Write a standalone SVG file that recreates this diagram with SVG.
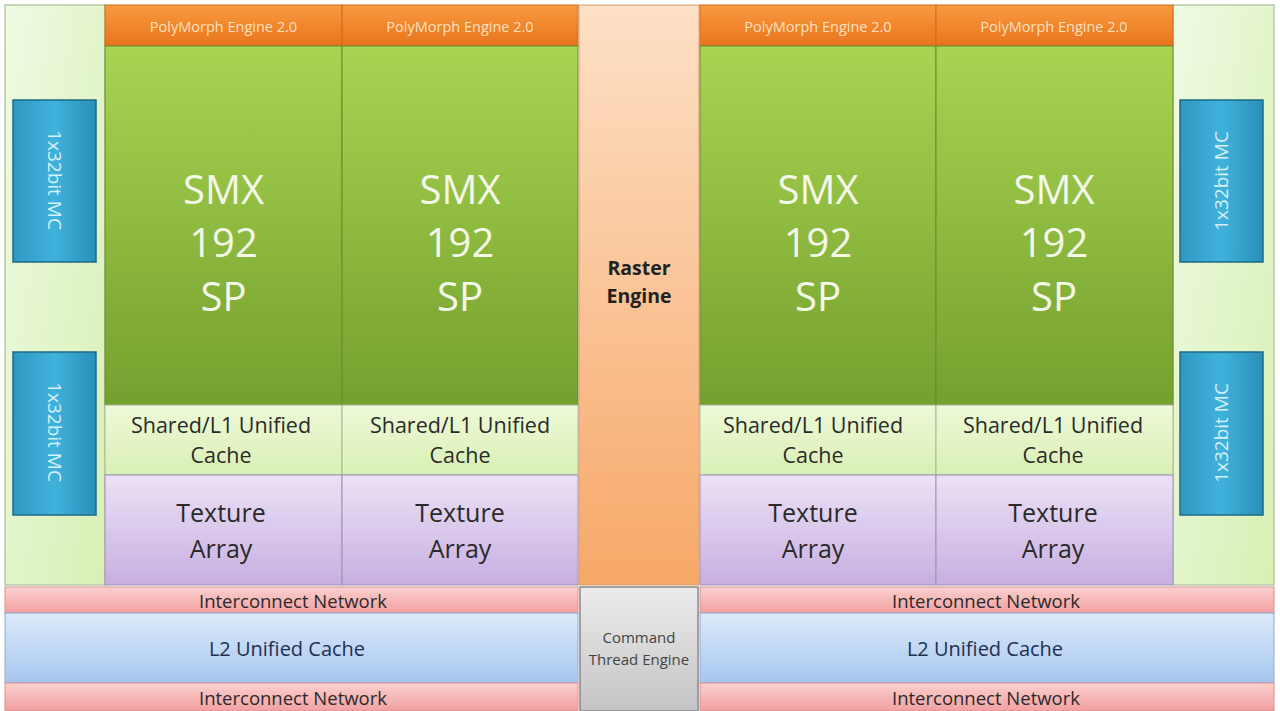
<svg xmlns="http://www.w3.org/2000/svg" width="1280" height="711" viewBox="0 0 1280 711">
<defs>
<linearGradient id="gSide" x1="0" y1="0" x2="1" y2="1"><stop offset="0" stop-color="#eefae2"/><stop offset="1" stop-color="#d8f0b4"/></linearGradient>
<linearGradient id="gSmx" x1="0" y1="0" x2="0" y2="1"><stop offset="0" stop-color="#a8d452"/><stop offset="1" stop-color="#74a02e"/></linearGradient>
<linearGradient id="gPoly" x1="0" y1="0" x2="0" y2="1"><stop offset="0" stop-color="#f99a40"/><stop offset="1" stop-color="#e8741c"/></linearGradient>
<linearGradient id="gL1" x1="0" y1="0" x2="0" y2="1"><stop offset="0" stop-color="#eefad8"/><stop offset="1" stop-color="#d8efb4"/></linearGradient>
<linearGradient id="gTex" x1="0" y1="0" x2="0" y2="1"><stop offset="0" stop-color="#ece2f6"/><stop offset="1" stop-color="#c7afe0"/></linearGradient>
<linearGradient id="gRas" x1="0" y1="0" x2="0" y2="1"><stop offset="0" stop-color="#fde0c6"/><stop offset="1" stop-color="#f7a868"/></linearGradient>
<linearGradient id="gIc" x1="0" y1="0" x2="0" y2="1"><stop offset="0" stop-color="#fcd0d0"/><stop offset="1" stop-color="#f2a0a0"/></linearGradient>
<linearGradient id="gL2" x1="0" y1="0" x2="0" y2="1"><stop offset="0" stop-color="#dce9fa"/><stop offset="1" stop-color="#a6c6f0"/></linearGradient>
<linearGradient id="gCmd" x1="0" y1="0" x2="0" y2="1"><stop offset="0" stop-color="#ececec"/><stop offset="1" stop-color="#c4c4c4"/></linearGradient>
<linearGradient id="gMc" x1="0" y1="0" x2="1" y2="0"><stop offset="0" stop-color="#2f98c2"/><stop offset="0.5" stop-color="#3fb2dc"/><stop offset="1" stop-color="#2a8fb8"/></linearGradient>
</defs>
<style>
text{font-family:"Open Sans","Liberation Sans",sans-serif;text-anchor:middle;dominant-baseline:central}
.side{fill:url(#gSide);stroke:#b8c8a8;stroke-width:1.5}
.smx{fill:url(#gSmx);stroke:#6a8a30;stroke-width:1}
.poly{fill:url(#gPoly);stroke:#d06a1a;stroke-width:1}
.l1{fill:url(#gL1);stroke:#a8b898;stroke-width:1}
.tex{fill:url(#gTex);stroke:#a090b8;stroke-width:1}
.ras{fill:url(#gRas);stroke:#d8a070;stroke-width:1}
.ic{fill:url(#gIc);stroke:#d89090;stroke-width:1}
.l2{fill:url(#gL2);stroke:#98a8c8;stroke-width:1}
.cmd{fill:url(#gCmd);stroke:#888;stroke-width:1.5}
.mc{fill:url(#gMc);stroke:#1e6a88;stroke-width:1.5}
.tSmx{fill:#f4f8e8;font-size:40px}
.tPoly{fill:#fde0c0;font-size:14.5px}
.tL1{fill:#2a2a2a;font-size:21.5px}
.tTex{fill:#2a2a2a;font-size:25px}
.tIc{fill:#2a2a2a;font-size:18.5px}
.tL2{fill:#1f3050;font-size:20px}
.tMc{fill:#d8f0f8;font-size:19px}
.tCmd{fill:#444;font-size:15px}
.tRas{fill:#222;font-size:19.5px;font-weight:bold}
</style>
<rect x="0" y="0" width="1280" height="711" fill="#ffffff"/>
<g id="side-left"><rect class="side" x="5" y="5" width="100" height="580"/></g>
<g id="side-right"><rect class="side" x="1173" y="5" width="101" height="580"/></g>
<g id="mc-l1"><rect class="mc" x="13" y="100" width="83" height="162"/><text class="tMc" transform="translate(55,180) rotate(90)">1x32bit MC</text></g>
<g id="mc-l2"><rect class="mc" x="13" y="352" width="83" height="163"/><text class="tMc" transform="translate(55,432) rotate(90)">1x32bit MC</text></g>
<g id="mc-r1"><rect class="mc" x="1180" y="100" width="83" height="162"/><text class="tMc" transform="translate(1221,181) rotate(-90)">1x32bit MC</text></g>
<g id="mc-r2"><rect class="mc" x="1180" y="352" width="83" height="163"/><text class="tMc" transform="translate(1221,433) rotate(-90)">1x32bit MC</text></g>

<g id="smx1">
<rect class="poly" x="105" y="5" width="237" height="41"/><text class="tPoly" x="223.5" y="26">PolyMorph Engine 2.0</text>
<rect class="smx" x="105" y="46" width="237" height="359"/>
<text class="tSmx" x="223.5" y="188">SMX</text><text class="tSmx" x="223.5" y="241">192</text><text class="tSmx" x="223.5" y="295">SP</text>
<rect class="l1" x="105" y="405" width="237" height="70"/><text class="tL1" x="221" y="424">Shared/L1 Unified</text><text class="tL1" x="221" y="454">Cache</text>
<rect class="tex" x="105" y="475" width="237" height="110"/><text class="tTex" x="221" y="512">Texture</text><text class="tTex" x="221" y="548">Array</text>
</g>
<g id="smx2">
<rect class="poly" x="342" y="5" width="236" height="41"/><text class="tPoly" x="460" y="26">PolyMorph Engine 2.0</text>
<rect class="smx" x="342" y="46" width="236" height="359"/>
<text class="tSmx" x="460" y="188">SMX</text><text class="tSmx" x="460" y="241">192</text><text class="tSmx" x="460" y="295">SP</text>
<rect class="l1" x="342" y="405" width="236" height="70"/><text class="tL1" x="460" y="424">Shared/L1 Unified</text><text class="tL1" x="460" y="454">Cache</text>
<rect class="tex" x="342" y="475" width="236" height="110"/><text class="tTex" x="460" y="512">Texture</text><text class="tTex" x="460" y="548">Array</text>
</g>
<g id="raster"><rect class="ras" x="579" y="5" width="120" height="580"/>
<text class="tRas" x="639" y="267">Raster</text><text class="tRas" x="639" y="295">Engine</text></g>
<g id="smx3">
<rect class="poly" x="700" y="5" width="236" height="41"/><text class="tPoly" x="818" y="26">PolyMorph Engine 2.0</text>
<rect class="smx" x="700" y="46" width="236" height="359"/>
<text class="tSmx" x="818" y="188">SMX</text><text class="tSmx" x="818" y="241">192</text><text class="tSmx" x="818" y="295">SP</text>
<rect class="l1" x="700" y="405" width="236" height="70"/><text class="tL1" x="813" y="424">Shared/L1 Unified</text><text class="tL1" x="813" y="454">Cache</text>
<rect class="tex" x="700" y="475" width="236" height="110"/><text class="tTex" x="813" y="512">Texture</text><text class="tTex" x="813" y="548">Array</text>
</g>
<g id="smx4">
<rect class="poly" x="936" y="5" width="237" height="41"/><text class="tPoly" x="1054" y="26">PolyMorph Engine 2.0</text>
<rect class="smx" x="936" y="46" width="237" height="359"/>
<text class="tSmx" x="1054" y="188">SMX</text><text class="tSmx" x="1054" y="241">192</text><text class="tSmx" x="1054" y="295">SP</text>
<rect class="l1" x="936" y="405" width="237" height="70"/><text class="tL1" x="1053" y="424">Shared/L1 Unified</text><text class="tL1" x="1053" y="454">Cache</text>
<rect class="tex" x="936" y="475" width="237" height="110"/><text class="tTex" x="1053" y="512">Texture</text><text class="tTex" x="1053" y="548">Array</text>
</g>

<g id="ic-top-left"><rect class="ic" x="5" y="587" width="573" height="26"/><text class="tIc" x="293" y="600">Interconnect Network</text></g>
<g id="l2-left"><rect class="l2" x="5" y="613" width="573" height="70"/><text class="tL2" x="287" y="648">L2 Unified Cache</text></g>
<g id="ic-bot-left"><rect class="ic" x="5" y="683" width="573" height="28"/><text class="tIc" x="293" y="697">Interconnect Network</text></g>
<g id="cmd"><rect class="cmd" x="580" y="587" width="118" height="124"/>
<text class="tCmd" x="639" y="637">Command</text><text class="tCmd" x="639" y="659">Thread Engine</text></g>
<g id="ic-top-right"><rect class="ic" x="700" y="587" width="574" height="26"/><text class="tIc" x="986" y="600">Interconnect Network</text></g>
<g id="l2-right"><rect class="l2" x="700" y="613" width="574" height="70"/><text class="tL2" x="985" y="648">L2 Unified Cache</text></g>
<g id="ic-bot-right"><rect class="ic" x="700" y="683" width="574" height="28"/><text class="tIc" x="986" y="697">Interconnect Network</text></g>
<g id="connectors"></g>
</svg>
